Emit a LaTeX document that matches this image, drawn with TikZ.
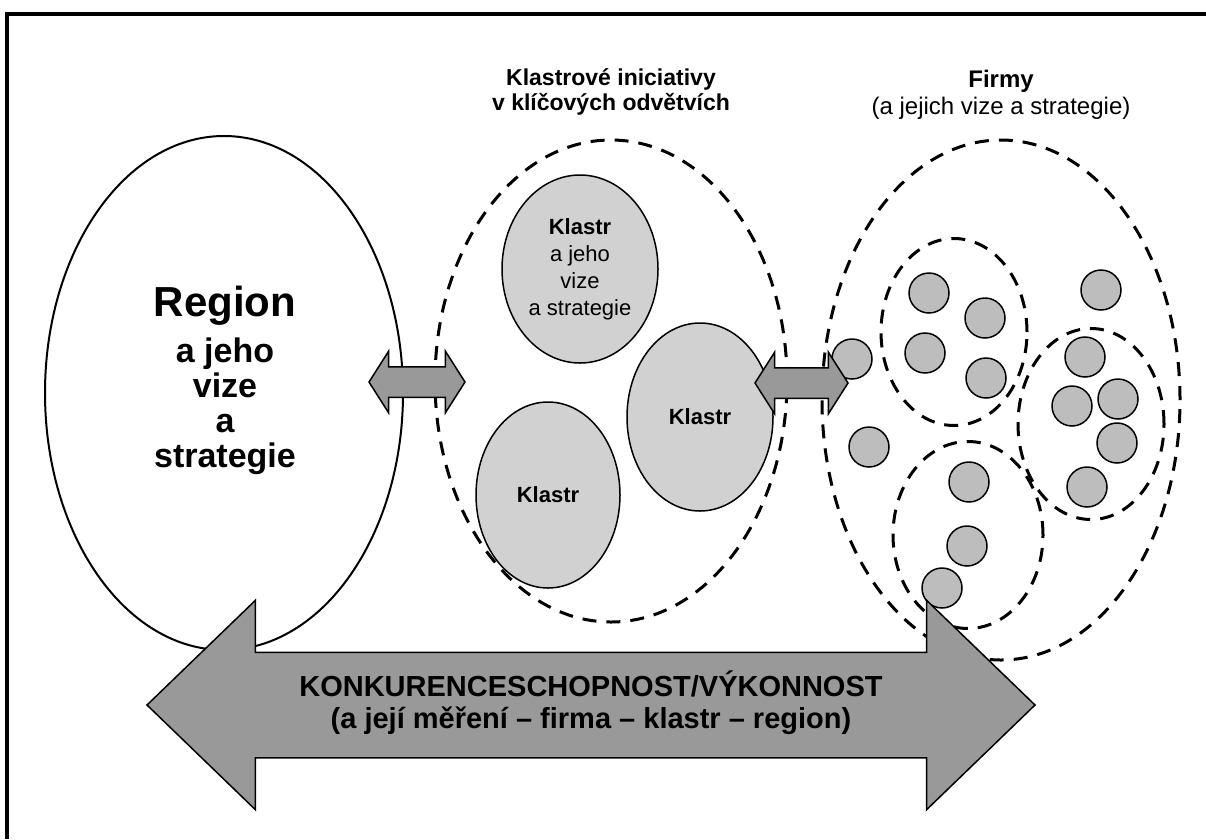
\documentclass[tikz,border=0pt]{standalone}
\usepackage{fontspec}
\setmainfont{Liberation Sans}
\usetikzlibrary{positioning,shapes.geometric,shapes.arrows}

\definecolor{arrowgray}{gray}{0.6}
\definecolor{klastrgray}{gray}{0.82}
\definecolor{firmgray}{gray}{0.74}

\begin{document}
\begin{tikzpicture}[x=1pt,y=-1pt,node distance=20pt,
  every node/.style={inner sep=0pt,outer sep=0pt,align=center},
  oval/.style={ellipse,draw,line width=2pt},
  dashoval/.style={ellipse,draw,line width=3pt,dash pattern=on 14pt off 10pt},
  klastr/.style={ellipse,draw,fill=klastrgray,line width=1.5pt},
  firm/.style={circle,draw,fill=firmgray,line width=1.5pt,minimum size=40pt}]
\useasboundingbox (0,0) rectangle (1206,839);
\draw[line width=3.5pt] (7,839) -- (7,14) -- (1206,14);

  \node[oval,minimum width=358pt,minimum height=514pt]     (R)  at (224,393)  {};
  \node[dashoval,minimum width=352pt,minimum height=482pt] (K)  at (611,381)  {};
  \node[dashoval,minimum width=358pt,minimum height=520pt] (F)  at (1001,400) {};
  \node[klastr,minimum width=156pt,minimum height=188pt]   (K1) at (580,269)  {};
  \node[klastr,minimum width=146pt,minimum height=188pt]   (K2) at (700,417)  {};
  \node[klastr,minimum width=144pt,minimum height=186pt]   (K3) at (548,495)  {};
  \node[dashoval,minimum width=146pt,minimum height=187pt] (G1) at (954,332)  {};
  \node[dashoval,minimum width=146pt,minimum height=191pt] (G2) at (1091,424) {};
  \node[dashoval,minimum width=150pt,minimum height=187pt] (G3) at (968,535)  {};

  \node[firm] (C0)  at (852,359)  {};
  \node[firm] (C1)  at (929,293)  {};
  \node[firm] (C2)  at (985,318)  {};
  \node[firm] (C3)  at (925,353)  {};
  \node[firm] (C4)  at (986,378)  {};
  \node[firm] (C5)  at (1101,290) {};
  \node[firm] (C6)  at (1085,357) {};
  \node[firm] (C7)  at (1072,406) {};
  \node[firm] (C8)  at (1118,399) {};
  \node[firm] (C9)  at (1117,443) {};
  \node[firm] (C10) at (1087,487) {};
  \node[firm] (C11) at (869,447)  {};
  \node[firm] (C12) at (969,482)  {};
  \node[firm] (C13) at (967,546)  {};
  \node[firm] (C14) at (942,588)  {};

\tikzset{blockarrow/.style={double arrow,draw,fill=arrowgray,line width=1.5pt,
  inner xsep=0pt,inner ysep=14.5pt,double arrow head extend=15.5pt,
  double arrow tip angle=115}}
  \node[blockarrow,minimum height=96pt] (A1) at (417,382)   {};
  \node[blockarrow,minimum height=93pt] (A2) at (801.5,383) {};
\tikzset{blockarrow/.style={double arrow,draw,fill=arrowgray,line width=1.5pt,
  inner xsep=0pt,inner ysep=52pt,double arrow head extend=52pt,
  double arrow tip angle=88}}
  \node[blockarrow,minimum height=888pt] (A0) at (591,705) {};

  % texts
  \node[font=\bfseries\fontsize{42}{50}\selectfont] (RN) at (225,306) {Region};
  \node[font=\bfseries\fontsize{34}{35}\selectfont] (RT) at (225,406) {a jeho\\vize\\a\\strategie};
  \node[font=\fontsize{22}{27}\selectfont] (T1) at (K1) {\textbf{Klastr}\\a jeho\\vize\\a strategie};
  \node[font=\bfseries\fontsize{22}{27}\selectfont] (T2) at (K2) {Klastr};
  \node[font=\bfseries\fontsize{22}{27}\selectfont] (T3) at (K3) {Klastr};
  \node[font=\bfseries\fontsize{23}{25}\selectfont] (KT) [above=25pt of K] {Klastrové iniciativy\\v klíčových odvětvích};
  \node[font=\fontsize{24}{27}\selectfont]          (FT) [above=21pt of F] {\textbf{Firmy}\\(a jejich vize a strategie)};
  \node[font=\bfseries\fontsize{29}{32}\selectfont] (AT) at (591,703)
    {KONKURENCESCHOPNOST/VÝKONNOST\\(a její měření – firma – klastr – region)};
\end{tikzpicture}
\end{document}
